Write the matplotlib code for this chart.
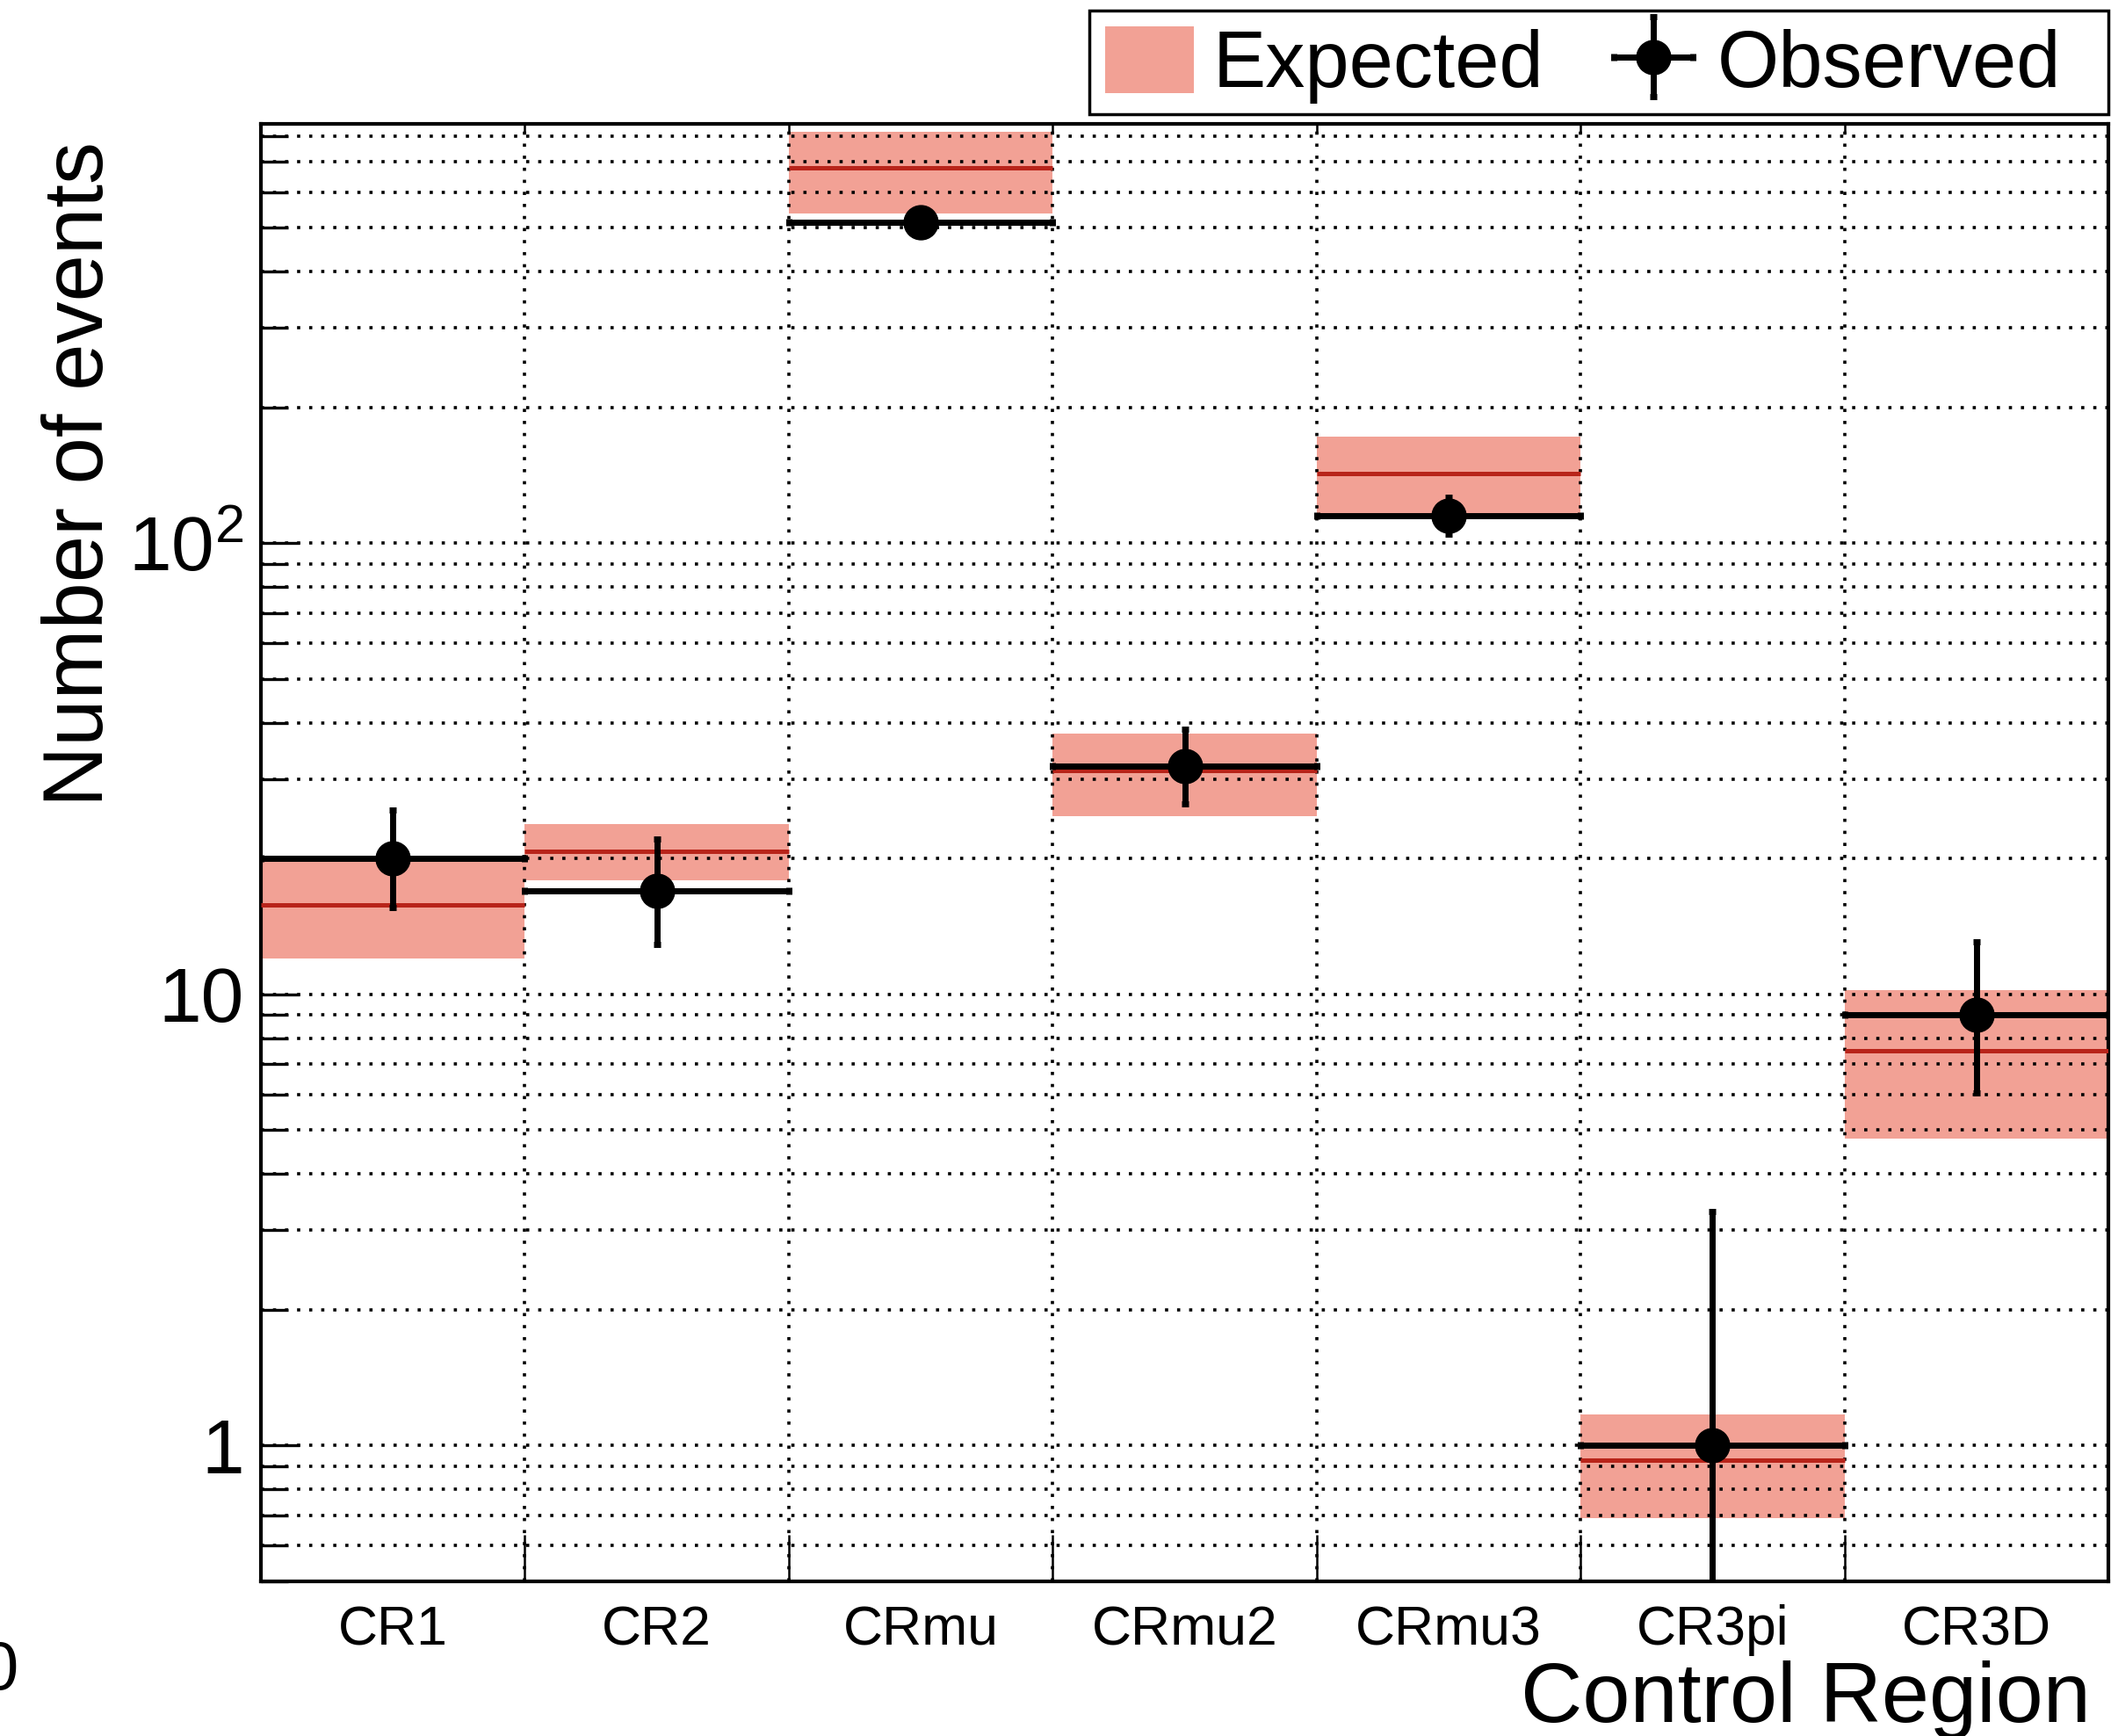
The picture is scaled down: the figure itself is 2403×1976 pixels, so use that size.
import matplotlib
matplotlib.use("Agg")
import matplotlib.pyplot as plt
from matplotlib.patches import Rectangle
import numpy as np

plt.rcParams['font.family'] = ['Liberation Sans', 'DejaVu Sans']
plt.rcParams['mathtext.fontset'] = 'custom'
plt.rcParams['mathtext.rm'] = 'Liberation Sans'
plt.rcParams['mathtext.it'] = 'Liberation Sans:italic'
plt.rcParams['mathtext.bf'] = 'Liberation Sans:bold'

# ---- data ----
regions = ['CR1', 'CR2', 'CRmu', 'CRmu2', 'CRmu3', 'CR3pi', 'CR3D']
expected = [15.8, 20.8, 678, 31.4, 143, 0.93, 7.5]
exp_low = [12.0, 17.9, 537, 24.8, 114, 0.69, 4.8]
exp_high = [19.8, 23.9, 815, 37.9, 172, 1.17, 10.2]
observed = [20, 17, 515, 32, 115, 1, 9]
obs_err_low = [4.4, 4.1, 22, 5.6, 10.5, 0.83, 2.95]
obs_err_high = [5.6, 5.1, 23, 6.7, 11.5, 2.3, 4.1]
ytick_values = [1, 10, 100]
ytick_labels = ['1', '10', '$10^{2}$']
ylim = (0.5, 850)

W, H = 2403, 1976
DPI = 100
fig = plt.figure(figsize=(W / DPI, H / DPI), dpi=DPI)
ax = fig.add_axes([297 / W, 176 / H, (2400 - 297) / W, (1800 - 141) / H])

x = np.arange(len(regions))
exp = np.array(expected)
lo = np.array(exp_low)
hi = np.array(exp_high)

band_color = '#F2A195'
line_color = '#B8241A'

ax.bar(x, hi - lo, bottom=lo, width=1.0, color=band_color, edgecolor='none',
       zorder=1, label='Expected')
ax.hlines(exp, x - 0.5, x + 0.5, color=line_color, linewidth=3.6, zorder=3)
eb = ax.errorbar(x, observed, xerr=0.5, yerr=[obs_err_low, obs_err_high],
                 fmt='o', color='black', markersize=28, elinewidth=5,
                 capsize=3, capthick=5, zorder=4, label='Observed')

ax.set_yscale('log')
ax.set_ylim(*ylim)
ax.set_xlim(-0.5, len(regions) - 0.5)

ax.set_yticks(ytick_values)
ax.set_yticklabels(ytick_labels, fontsize=63)
ax.yaxis.set_minor_locator(matplotlib.ticker.LogLocator(base=10, subs=np.arange(2, 10)))
ax.yaxis.set_minor_formatter(matplotlib.ticker.NullFormatter())

ax.set_xticks(x)
ax.set_xticklabels(regions, fontsize=45)
ax.set_xticks(np.arange(len(regions) - 1) + 0.5, minor=True)

ax.tick_params(axis='y', which='major', direction='in', length=32, width=2.4, pad=14)
ax.tick_params(axis='y', which='minor', direction='in', length=22, width=2.4)
ax.tick_params(axis='x', which='major', length=0, pad=19)
ax.tick_params(axis='x', which='minor', direction='in', length=38, width=1.8)

grid_kw = dict(color='black', linewidth=2.6, linestyle=(0, (1, 2.8)), dash_capstyle='butt')
ax.set_axisbelow(False)
ax.grid(True, axis='y', which='both', **grid_kw)
ax.grid(True, axis='x', which='minor', **grid_kw)
ax.grid(False, axis='x', which='major')

# small top ticks at bin edges
for xe in np.arange(len(regions) - 1) + 0.5:
    ax.plot([xe, xe], [1.0, 0.994], transform=ax.get_xaxis_transform(),
            color='black', linewidth=1.8, clip_on=False, zorder=5)

for s in ax.spines.values():
    s.set_linewidth(3)

fig.text(92 / W, 1 - 161 / H, 'Number of events', rotation=90, ha='center', va='top', fontsize=69)
fig.text(2380 / W, 16 / H, 'Control Region', ha='right', va='baseline', fontsize=70)
fig.text(21 / W, (H - 1923) / H, '0', ha='right', va='baseline', fontsize=56)

# legend frame
fig.patches.append(Rectangle((1240 / W, 1 - 130 / H), (2400 - 1240) / W, (130 - 12) / H,
                             transform=fig.transFigure, facecolor='white',
                             edgecolor='black', linewidth=2.5, zorder=0))

handles = [ax.containers[0], eb]
leg = fig.legend(handles, ['Expected', 'Observed'], loc='upper left',
                 bbox_to_anchor=(1240 / W, 1 - 12 / H), borderaxespad=0,
                 ncol=2, fontsize=65, frameon=False,
                 handlelength=1.12, handleheight=0.92, handletextpad=0.24,
                 columnspacing=0.82, borderpad=0.2)

fig.savefig('out.png', dpi=DPI)
